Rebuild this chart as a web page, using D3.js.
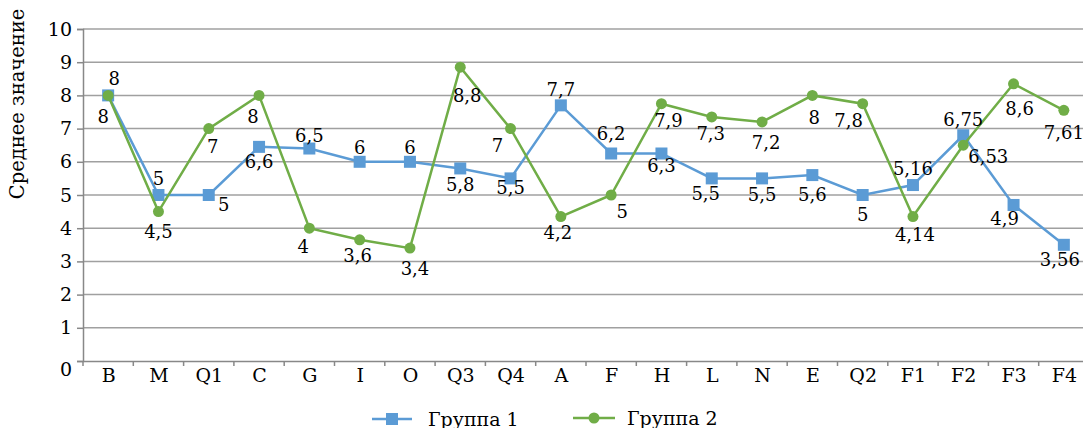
<!DOCTYPE html>
<html>
<head>
<meta charset="utf-8">
<script src="https://cdn.jsdelivr.net/npm/d3@7"></script>
<style>
  body { margin: 0; background: #fff; }
  text { font-family: "DejaVu Serif", "Liberation Serif", serif; fill: #000; }
</style>
</head>
<body>
<div id="chart"></div>
<script>
// datos
const categories = ["B", "M", "Q1", "C", "G", "I", "O", "Q3", "Q4", "A", "F", "H", "L", "N", "E", "Q2", "F1", "F2", "F3", "F4"]
const group1 = [8, 5, 5, 6.45, 6.4, 6, 6, 5.8, 5.5, 7.7, 6.25, 6.25, 5.5, 5.5, 5.6, 5, 5.3, 6.8, 4.7, 3.5]
const group2 = [8, 4.5, 7, 8, 4, 3.65, 3.4, 8.85, 7, 4.35, 5, 7.75, 7.35, 7.2, 8, 7.75, 4.35, 6.5, 8.35, 7.55]
const labels1 = ["8", "5", "5", "6,6", "6,5", "6", "6", "5,8", "5,5", "7,7", "6,2", "6,3", "5,5", "5,5", "5,6", "5", "5,16", "6,75", "4,9", "3,56"]
const labels2 = ["8", "4,5", "7", "8", "4", "3,6", "3,4", "8,8", "7", "4,2", "5", "7,9", "7,3", "7,2", "8", "7,8", "4,14", "6,53", "8,6", "7,61"]
const yTicks = [0, 1, 2, 3, 4, 5, 6, 7, 8, 9, 10]
const seriesNames = ["Группа 1", "Группа 2"]

// colocación de etiquetas (dx, dy respecto al marcador)
const pos1 = [[6,-17],[0,-17],[15,9],[0,15],[0,-13],[0,-14],[0,-14],[0,16],[0,9],[0,-16],[0,-20],[0,12],[-6,15],[0,16],[0,19],[0,19],[0,-17],[0,-16],[-9,14],[-4,15]]
const pos2 = [[-5,21],[0,20],[4,18],[-6,21],[-6,18],[-2,16],[5,20],[7,28],[-13,17],[-3,16],[11,16],[7,17],[-1,17],[4,21],[2,22],[-14,17],[2,18],[25,11],[6,25],[0,22]]

const width = 1083
const height = 428
const margin = { top: 29, bottom: 67, right: 0, left: 83 }
const blue = "#5b9bd5"
const green = "#70ad47"

const svg = d3.select("div#chart").append("svg").attr("width", width).attr("height", height)

const x = d3.scalePoint().domain(categories).range([margin.left, margin.left + 1006]).padding(0.5)
const y = d3.scaleLinear().domain([0, 10]).range([height - margin.bottom, margin.top])

// rejilla
svg.append("g").selectAll("line").data(yTicks.filter(d => d > 0)).join("line")
    .attr("x1", margin.left).attr("x2", width)
    .attr("y1", d => y(d)).attr("y2", d => y(d))
    .attr("stroke", "#a0a0a0").attr("stroke-width", 1.5)

// eje Y
const yAxis = d3.axisLeft(y).tickValues(yTicks).tickSize(6).tickPadding(5)
const yAxisGroup = svg.append("g").attr("transform", `translate(${margin.left},0)`).call(yAxis)
yAxisGroup.select(".domain").attr("stroke", "#888").attr("stroke-width", 1.5)
yAxisGroup.selectAll(".tick line").attr("stroke", "#888").attr("stroke-width", 1.5)
yAxisGroup.selectAll(".tick text").style("font-size", "19px").style("font-family", "DejaVu Serif")
    .attr("dy", d => d === 0 ? "0.75em" : "0.32em")

// eje X
const xAxis = d3.axisBottom(x).tickSize(0).tickPadding(8)
const xAxisGroup = svg.append("g").attr("transform", `translate(0,${y(0)})`).call(xAxis)
xAxisGroup.select(".domain").attr("stroke", "#888").attr("stroke-width", 1.5)
xAxisGroup.selectAll(".tick text").style("font-size", "19px").style("font-family", "DejaVu Serif")
// marcas entre categorías
const step = x.step()
xAxisGroup.append("g").selectAll("line").data(d3.range(categories.length + 1)).join("line")
    .attr("x1", i => margin.left + i * step).attr("x2", i => margin.left + i * step)
    .attr("y1", 0).attr("y2", 5)
    .attr("stroke", "#888").attr("stroke-width", 1.5)

// título eje Y
svg.append("text")
    .attr("transform", `translate(24,104) rotate(-90)`)
    .attr("text-anchor", "middle")
    .style("font-size", "19.5px")
    .text("Среднее значение")

const line = d3.line().x((d, i) => x(categories[i])).y(d => y(d))

// serie 1
svg.append("path").datum(group1).attr("d", line)
    .attr("fill", "none").attr("stroke", blue).attr("stroke-width", 2.5)
svg.append("g").selectAll("rect").data(group1).join("rect")
    .attr("x", (d, i) => x(categories[i]) - 6).attr("y", d => y(d) - 6)
    .attr("width", 12).attr("height", 12).attr("fill", blue)

// serie 2
svg.append("path").datum(group2).attr("d", line)
    .attr("fill", "none").attr("stroke", green).attr("stroke-width", 2.5)
svg.append("g").selectAll("circle").data(group2).join("circle")
    .attr("cx", (d, i) => x(categories[i])).attr("cy", d => y(d))
    .attr("r", 5.5).attr("fill", green)

// etiquetas
function drawLabels(values, texts, offs) {
    svg.append("g").selectAll("text").data(values).join("text")
        .attr("x", (d, i) => x(categories[i]) + offs[i][0])
        .attr("y", (d, i) => y(d) + offs[i][1])
        .attr("text-anchor", "middle")
        .attr("dominant-baseline", "central")
        .style("font-size", "18px")
        .text((d, i) => texts[i])
}
drawLabels(group1, labels1, pos1)
drawLabels(group2, labels2, pos2)

// leyenda
const legend = svg.append("g").attr("transform", "translate(372,419)")
const l1 = legend.append("g")
l1.append("line").attr("x1", 0).attr("x2", 40).attr("stroke", blue).attr("stroke-width", 2.5)
l1.append("rect").attr("x", 14).attr("y", -6).attr("width", 12).attr("height", 12).attr("fill", blue)
l1.append("text").attr("x", 56).attr("y", 7).style("font-size", "19px").text(seriesNames[0])
const l2 = legend.append("g").attr("transform", "translate(201,-1)")
l2.append("line").attr("x1", 0).attr("x2", 42).attr("stroke", green).attr("stroke-width", 2.5)
l2.append("circle").attr("cx", 21).attr("r", 5.5).attr("fill", green)
l2.append("text").attr("x", 54).attr("y", 7).style("font-size", "19px").text(seriesNames[1])
</script>
</body>
</html>
